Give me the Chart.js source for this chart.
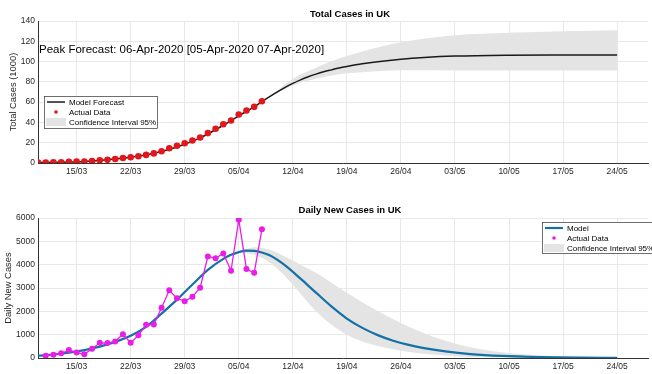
<!DOCTYPE html>
<html>
<head>
<meta charset="utf-8">
<script src="https://cdn.jsdelivr.net/npm/chart.js@4.4.1/dist/chart.umd.min.js"></script>
<style>
  html, body { margin: 0; padding: 0; background: #fff; }
  .box { position: absolute; left: 0; width: 652px; }
  #top { top: 0; height: 190px; }
  #bottom { top: 190px; height: 184px; }
</style>
</head>
<body>
<div class="box" id="top"><canvas id="totalChart"></canvas></div>
<div class="box" id="bottom"><canvas id="dailyChart"></canvas></div>
<script>
// day 0 = 10/03/2020
var tickDays = [5, 12, 19, 26, 33, 40, 47, 54, 61, 68, 75];
var tickLabels = ['15/03', '22/03', '29/03', '05/04', '12/04', '19/04', '26/04', '03/05', '10/05', '17/05', '24/05'];

// total cases (thousands), one value per day from 10/03
var totalActual = [0.37, 0.46, 0.6, 0.8, 1.14, 1.38, 1.54, 1.95, 2.6, 3.24, 3.95, 4.97, 5.62, 6.59, 8.01,
  9.45, 11.6, 14.5, 17.06, 19.49, 22.11, 25.12, 29.47, 33.74, 38.22, 41.96, 47.89, 51.7, 55.35, 60.87];
var totalModelDays = [0, 3, 6, 9, 12, 15, 18, 21, 24, 26, 28, 29, 30, 31, 32, 33, 34, 35, 36, 37, 38, 39, 40, 42, 44, 47, 50, 54, 61, 68, 75];
var totalModel = [0.4, 0.8, 1.6, 3.3, 5.7, 9.6, 15.8, 24.8, 37.2, 46.5, 55.4, 60.6, 65.5, 70.2, 74.6, 78.5, 82, 85, 87.6, 89.9, 91.8, 93.6, 95.1, 97.8, 99.9, 102.3, 104, 105.4, 106.3, 106.5, 106.5];
var totalBandDays = [29, 31, 33, 36, 39, 42, 47, 54, 61, 68, 75];
var totalUpper = [60.6, 71.5, 83, 94, 103, 110, 119, 126, 128.5, 130, 131];
var totalLower = [60.6, 69, 76.5, 83, 87.5, 89.5, 91.5, 91.3, 91.2, 91.2, 91.2];

// daily new cases, one value per day from 11/03
var dailyActual = [100, 140, 200, 340, 240, 160, 400, 650, 640, 710, 1020, 650, 970, 1420, 1440, 2150, 2900,
  2560, 2430, 2620, 3010, 4350, 4270, 4480, 3740, 5930, 3810, 3650, 5520];
var dailyModelDays = [0, 2, 4, 6, 8, 10, 12, 14, 16, 18, 20, 22, 24, 25, 26, 27, 28, 29, 30, 32, 34, 36, 38, 40, 42, 44, 46, 48, 50, 53, 56, 60, 65, 70, 75];
var dailyModel = [100, 150, 230, 340, 490, 690, 950, 1330, 1900, 2500, 3150, 3780, 4250, 4420, 4540, 4600, 4590, 4520, 4400, 3970, 3400, 2800, 2210, 1690, 1290, 980, 740, 560, 420, 270, 170, 90, 40, 18, 8];
var dailyBandDays = [26, 28, 30, 32, 34, 36, 38, 40, 42, 44, 47, 50, 54, 58, 61, 65, 70, 75];
var dailyUpper = [4560, 4750, 4640, 4350, 4000, 3650, 3230, 2800, 2390, 2010, 1500, 1060, 620, 340, 210, 110, 50, 25];
var dailyLower = [4520, 4430, 4100, 3500, 2750, 2000, 1420, 1000, 710, 510, 310, 180, 80, 35, 18, 8, 3, 1];

function pts(days, vals) {
    return vals.map(function (v, i) { return { x: days[i], y: v }; });
}
function seq(start, vals) {
    return vals.map(function (v, i) { return { x: start + i, y: v }; });
}

var FONT = '"Liberation Sans", Arial, sans-serif';

// titles, note text and the legend box inside the axes
var decor = {
    id: 'decor',
    afterDraw: function (chart, args, opts) {
        var ctx = chart.ctx;
        ctx.save();
        ctx.fillStyle = '#000';
        ctx.textBaseline = 'middle';
        ctx.textAlign = 'center';
        ctx.font = 'bold 9.5px ' + FONT;
        ctx.fillText(opts.title, opts.titleX, opts.titleY);
        if (opts.note) {
            ctx.textAlign = 'left';
            ctx.font = '11.5px ' + FONT;
            ctx.fillText(opts.note, opts.noteX, opts.noteY);
        }
        var lg = opts.legend;
        ctx.fillStyle = '#fff';
        ctx.fillRect(lg.x, lg.y, lg.w, lg.h);
        ctx.strokeStyle = '#333';
        ctx.lineWidth = 0.7;
        ctx.strokeRect(lg.x + 0.5, lg.y + 0.5, lg.w, lg.h);
        ctx.font = '8px ' + FONT;
        ctx.textAlign = 'left';
        var items = chart.data.datasets.filter(function (d) { return d.label; });
        items.forEach(function (d, i) {
            var y = lg.y + 6 + i * 10;
            var x = lg.x + 3;
            if (d.legendKind === 'line') {
                ctx.strokeStyle = d.borderColor;
                ctx.lineWidth = d.borderWidth;
                ctx.beginPath(); ctx.moveTo(x, y); ctx.lineTo(x + 18, y); ctx.stroke();
            } else if (d.legendKind === 'dot') {
                ctx.fillStyle = d.pointBackgroundColor;
                ctx.beginPath(); ctx.arc(x + 9, y, 1.8, 0, Math.PI * 2); ctx.fill();
            } else {
                ctx.fillStyle = d.backgroundColor;
                ctx.fillRect(x - 1, y - 4, 20, 8);
            }
            ctx.fillStyle = '#000';
            ctx.fillText(d.label, x + 22, y + 0.5);
        });
        ctx.restore();
    }
};

function makeOptions(yMax, yStep, yTitle, yTitlePad, padTop, xHeight, decorOpts) {
    return {
        responsive: true,
        maintainAspectRatio: false,
        animation: false,
        layout: { padding: { top: padTop, left: 0, right: 0, bottom: 0 } },
        plugins: { legend: { display: false }, tooltip: { enabled: false }, decor: decorOpts },
        scales: {
            x: {
                type: 'linear', min: 0, max: 79,
                afterBuildTicks: function (axis) {
                    axis.ticks = tickDays.map(function (d) { return { value: d }; });
                },
                afterFit: function (scale) { scale.height = xHeight; },
                grid: { color: '#e8e8e8', drawTicks: false },
                border: { color: '#333', width: 1 },
                ticks: {
                    autoSkip: false, maxRotation: 0, padding: 4, color: '#262626',
                    font: { family: FONT, size: 8.5 },
                    callback: function (v) { return tickLabels[tickDays.indexOf(v)]; }
                }
            },
            y: {
                min: 0, max: yMax,
                afterFit: function (scale) { scale.width = 38; },
                grid: { color: '#e8e8e8', drawTicks: false },
                border: { color: '#333', width: 1 },
                ticks: {
                    stepSize: yStep, padding: 3, color: '#262626', font: { family: FONT, size: 8.5 },
                    callback: function (v) { return String(v); }
                },
                title: {
                    display: true, text: yTitle, color: '#262626',
                    padding: { top: yTitlePad, bottom: 0 },
                    font: { family: FONT, size: 9.4 }
                }
            }
        }
    };
}

new Chart(document.getElementById('totalChart'), {
    type: 'line',
    data: {
        datasets: [{
            label: 'Model Forecast', legendKind: 'line',
            data: pts(totalModelDays, totalModel),
            borderColor: '#1a1a1a', borderWidth: 1.5, pointRadius: 0,
            cubicInterpolationMode: 'monotone', order: 1
        }, {
            label: 'Actual Data', legendKind: 'dot',
            data: seq(0, totalActual),
            showLine: false, pointRadius: 3.3, pointBorderWidth: 0,
            pointBackgroundColor: '#e3161c', borderColor: '#e3161c', order: 0
        }, {
            label: 'Confidence Interval 95%', legendKind: 'band',
            data: pts(totalBandDays, totalUpper),
            borderWidth: 0, pointRadius: 0, backgroundColor: '#e4e4e4',
            fill: '+1', cubicInterpolationMode: 'monotone', order: 2
        }, {
            label: '',
            data: pts(totalBandDays, totalLower),
            borderWidth: 0, pointRadius: 0, fill: false,
            cubicInterpolationMode: 'monotone', order: 3
        }]
    },
    options: makeOptions(140, 20, 'Total Cases (1000)', 8, 21, 27, {
        title: 'Total Cases in UK', titleX: 350, titleY: 14,
        note: 'Peak Forecast: 06-Apr-2020 [05-Apr-2020 07-Apr-2020]', noteX: 39, noteY: 49.5,
        legend: { x: 44, y: 96, w: 113, h: 32 }
    }),
    plugins: [decor]
});

new Chart(document.getElementById('dailyChart'), {
    type: 'line',
    data: {
        datasets: [{
            label: 'Model', legendKind: 'line',
            data: pts(dailyModelDays, dailyModel),
            borderColor: '#1470a6', borderWidth: 2.2, pointRadius: 0,
            cubicInterpolationMode: 'monotone', order: 1
        }, {
            label: 'Actual Data', legendKind: 'dot',
            data: seq(1, dailyActual),
            borderColor: '#e81ee8', borderWidth: 1.3, pointRadius: 3, pointBorderWidth: 0,
            pointBackgroundColor: '#e81ee8', tension: 0, order: 0
        }, {
            label: 'Confidence Interval 95%', legendKind: 'band',
            data: pts(dailyBandDays, dailyUpper),
            borderWidth: 0, pointRadius: 0, backgroundColor: '#e4e4e4',
            fill: '+1', cubicInterpolationMode: 'monotone', order: 2
        }, {
            label: '',
            data: pts(dailyBandDays, dailyLower),
            borderWidth: 0, pointRadius: 0, fill: false,
            cubicInterpolationMode: 'monotone', order: 3
        }]
    },
    options: makeOptions(6000, 1000, 'Daily New Cases', 3, 28, 16, {
        title: 'Daily New Cases in UK', titleX: 350, titleY: 20.7,
        legend: { x: 542, y: 32, w: 120, h: 31 }
    }),
    plugins: [decor]
});
</script>
</body>
</html>
